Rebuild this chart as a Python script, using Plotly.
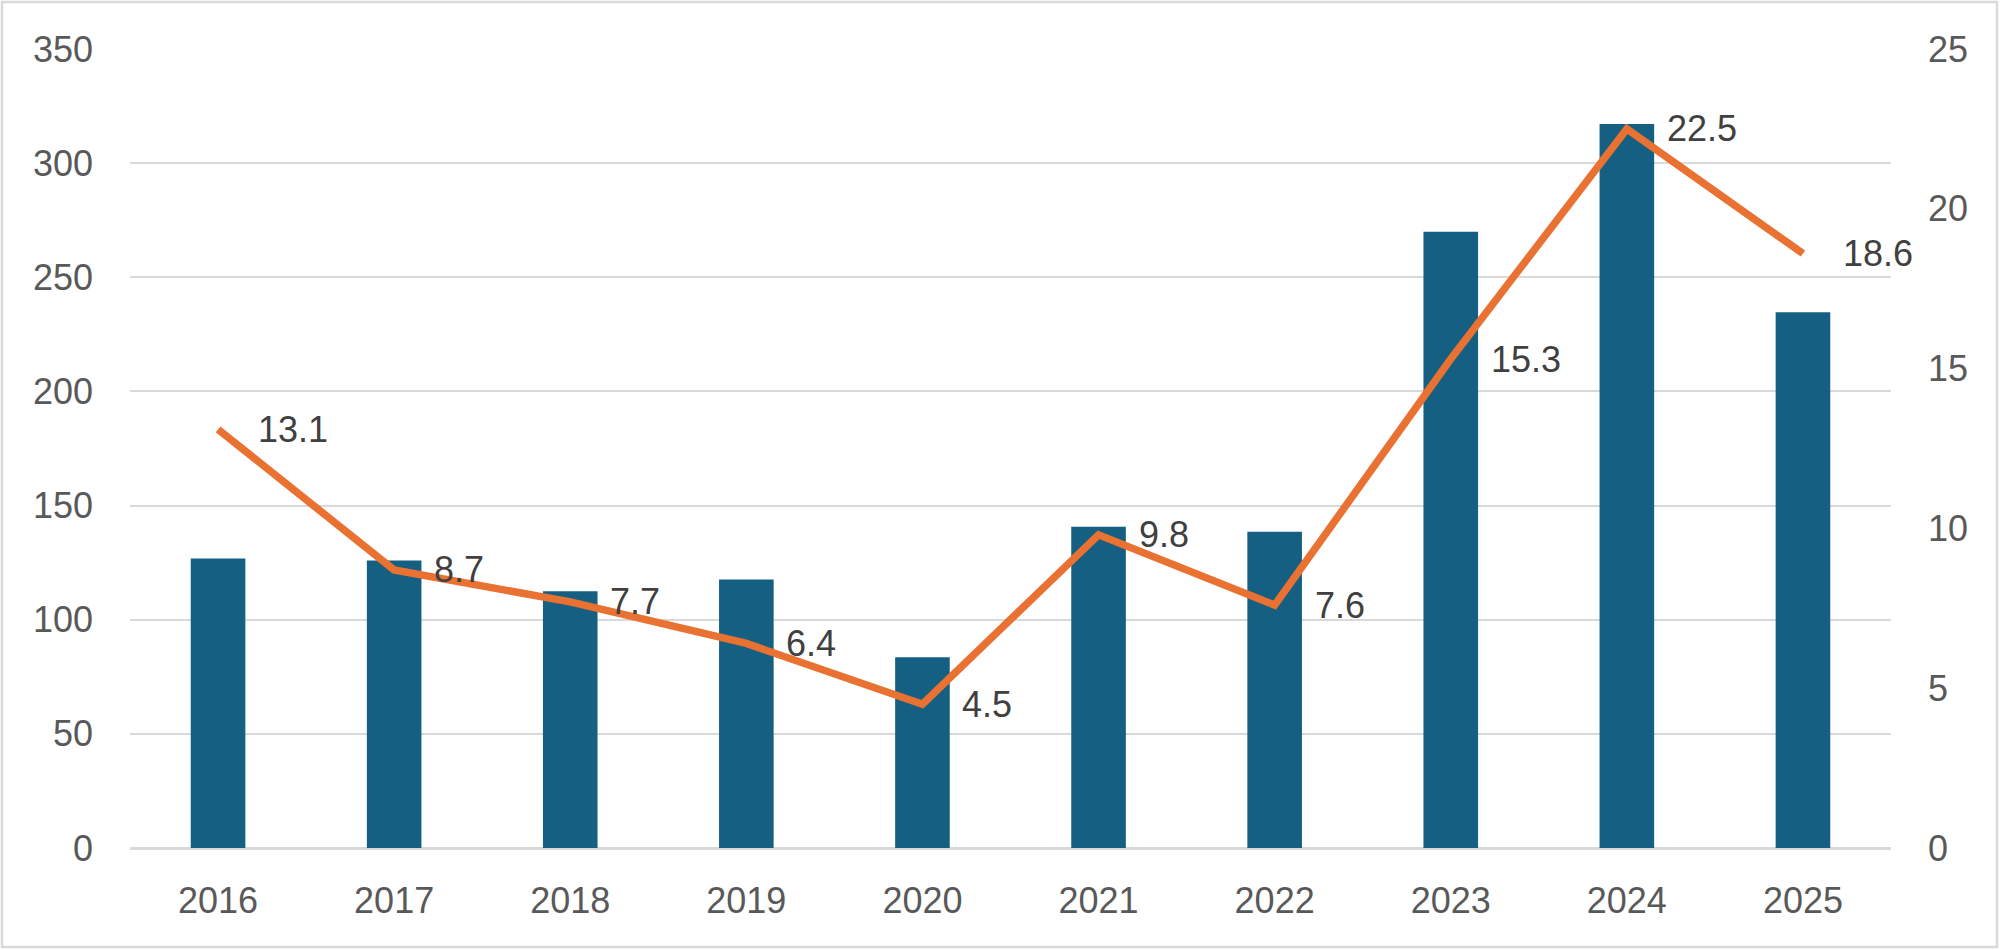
import plotly.graph_objects as go

years = ["2016", "2017", "2018", "2019", "2020", "2021", "2022", "2023", "2024", "2025"]
bar_values = [126.8, 125.9, 112.5, 117.6, 83.6, 140.7, 138.5, 269.9, 317.1, 234.7]
line_values = [13.1, 8.7, 7.7, 6.4, 4.5, 9.8, 7.6, 15.3, 22.5, 18.6]
left_ticks = [0, 50, 100, 150, 200, 250, 300, 350]
right_ticks = [0, 5, 10, 15, 20, 25]

BAR_COLOR = "#156082"
LINE_COLOR = "#E97132"
AXIS_TEXT = "#595959"
LABEL_TEXT = "#404040"
GRID = "#D9D9D9"
FONT = "Liberation Sans, Arial, sans-serif"

W, H = 2000, 950
ML, MR, MT, MB = 130, 109, 49, 102
PW = W - ML - MR
PH = H - MT - MB

fig = go.Figure()
fig.add_trace(go.Bar(x=years, y=bar_values, marker=dict(color=BAR_COLOR, line=dict(width=0)),
                     yaxis="y", showlegend=False))
fig.add_trace(go.Scatter(x=years, y=line_values, mode="lines",
                         line=dict(color=LINE_COLOR, width=7.5),
                         yaxis="y2", showlegend=False))

annotations = []
for i, v in enumerate(line_values):
    annotations.append(dict(x=i, y=v, xref="x", yref="y2", text=f"{v:.1f}",
                            showarrow=False, xanchor="left", yanchor="middle",
                            xshift=38, font=dict(family=FONT, size=36, color=LABEL_TEXT)))

# outer frame of the chart
shapes = [dict(type="rect", xref="paper", yref="paper",
               x0=(2 - ML) / PW, x1=(W - 3 - ML) / PW,
               y0=(MT + PH - (H - 3)) / PH, y1=(MT + PH - 2) / PH,
               line=dict(color=GRID, width=2.5), fillcolor="rgba(0,0,0,0)", layer="below")]

fig.update_layout(
    width=W, height=H,
    margin=dict(l=ML, r=MR, t=MT, b=MB, pad=0),
    paper_bgcolor="white", plot_bgcolor="white",
    bargap=0.69,
    font=dict(family=FONT, size=36, color=AXIS_TEXT),
    xaxis=dict(type="category", range=[-0.5, len(years) - 0.5], showgrid=False, showline=False,
               zeroline=False, ticks="", tickfont=dict(size=36, color=AXIS_TEXT),
               ticklabelstandoff=28),
    yaxis=dict(range=[0, 350], tickvals=left_ticks, showgrid=True, gridcolor=GRID, gridwidth=2,
               zeroline=True, zerolinecolor=GRID, zerolinewidth=2.5, showline=False, ticks="",
               tickfont=dict(size=36, color=AXIS_TEXT), ticklabelstandoff=36),
    yaxis2=dict(range=[0, 25], tickvals=right_ticks, overlaying="y", side="right",
                showgrid=False, zeroline=False, showline=False, ticks="",
                tickfont=dict(size=36, color=AXIS_TEXT), ticklabelstandoff=36),
    annotations=annotations,
    shapes=shapes,
)

fig.write_html("out.html",
               config={"displayModeBar": False},
               post_script="document.body.style.margin='0px';document.body.style.padding='0px';")
